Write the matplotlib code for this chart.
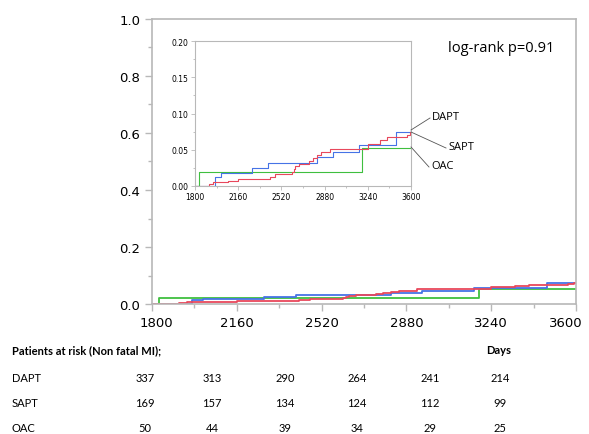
import matplotlib.pyplot as plt
import matplotlib.transforms as mtrans
import numpy as np

# step curves (days, cumulative incidence)
dapt_t = [1800, 1914, 1948, 2079, 2160, 2422, 2470, 2609, 2623, 2637, 2665, 2749, 2782, 2813, 2849, 2925, 3240, 3343, 3399, 3567, 3590, 3600]
dapt_y = [0.0, 0.003, 0.006, 0.007, 0.010, 0.013, 0.017, 0.020, 0.024, 0.027, 0.031, 0.034, 0.038, 0.043, 0.047, 0.051, 0.058, 0.063, 0.067, 0.071, 0.075, 0.075]
sapt_t = [1800, 1970, 2018, 2277, 2411, 2813, 2947, 3168, 3475, 3600]
sapt_y = [0.0, 0.013, 0.018, 0.025, 0.032, 0.040, 0.047, 0.056, 0.074, 0.074]
oac_t = [1800, 1831, 3190, 3600]
oac_y = [0.0, 0.020, 0.052, 0.052]

groups = ['DAPT', 'SAPT', 'OAC']
at_risk = {
    'DAPT': [337, 313, 290, 264, 241, 214],
    'SAPT': [169, 157, 134, 124, 112, 99],
    'OAC': [50, 44, 39, 34, 29, 25],
}
xticks = [1800, 2160, 2520, 2880, 3240, 3600]

red = '#e8485c'
blue = '#4673e6'
green = '#3fbf3f'
gray = '#b8b8b8'

fig = plt.figure(figsize=(5.89, 4.35), dpi=100)
W, H = 589, 435

def box(l, t, r, b):
    return [l / W, 1 - b / H, (r - l) / W, (b - t) / H]

ax = fig.add_axes(box(152, 20, 576, 305))
for t, y, c in [(oac_t, oac_y, green), (sapt_t, sapt_y, blue), (dapt_t, dapt_y, red)]:
    ax.step(t, y, where='post', color=c, lw=1.3)
ax.set_xlim(1800, 3600)
ax.set_ylim(0, 1.0)
ax.set_xticks(xticks)
ax.set_xticks(np.arange(1800, 3601, 180), minor=True)
ax.set_yticks(np.arange(0, 1.01, 0.2))
ax.set_yticks(np.arange(0.1, 1.0, 0.2), minor=True)
ax.yaxis.set_major_formatter(plt.FormatStrFormatter('%.1f'))
for s in ax.spines.values():
    s.set_color(gray)
    s.set_linewidth(1.2)
ax.tick_params(which='both', color=gray, labelsize=9.5, width=1, direction='out')
ax.tick_params(which='major', length=5)
ax.tick_params(which='minor', length=3)
# keep end labels inside the figure, like the original
labs = ax.get_xticklabels()
labs[0].set_transform(labs[0].get_transform() + mtrans.ScaledTranslation(4 / 100, 0, fig.dpi_scale_trans))
labs[-1].set_transform(labs[-1].get_transform() + mtrans.ScaledTranslation(-10 / 100, 0, fig.dpi_scale_trans))
ax.text(0.95, 0.9, 'log-rank p=0.91', transform=ax.transAxes, ha='right', va='center',
        fontsize=10.5, family='Open Sans')

ins = fig.add_axes(box(195, 42, 411, 187))
for t, y, c in [(oac_t, oac_y, green), (sapt_t, sapt_y, blue), (dapt_t, dapt_y, red)]:
    ins.step(t, y, where='post', color=c, lw=0.8)
ins.set_xlim(1800, 3600)
ins.set_ylim(0, 0.20)
ins.set_xticks(xticks)
ins.set_xticks(np.arange(1800, 3601, 180), minor=True)
ins.set_yticks([0, 0.05, 0.10, 0.15, 0.20])
ins.set_yticks([0.025, 0.075, 0.125, 0.175], minor=True)
ins.yaxis.set_major_formatter(plt.FormatStrFormatter('%.2f'))
for s in ins.spines.values():
    s.set_color(gray)
    s.set_linewidth(0.8)
ins.tick_params(which='both', color=gray, labelsize=5.5, width=0.6, pad=1.5)
ins.tick_params(which='major', length=3)
ins.tick_params(which='minor', length=1.5)

# labels with leader lines
for name, end, lab in [('DAPT', (411, 131), (432, 118)),
                       ('SAPT', (411, 133), (448, 148)),
                       ('OAC', (411, 148), (431, 167))]:
    ex, ey = end
    lx, ly = lab
    fig.add_artist(plt.Line2D([ex / W, (lx - 2) / W], [1 - ey / H, 1 - (ly + 1) / H],
                              color='#555555', lw=0.6))
    fig.text(lx / W, 1 - ly / H, name, ha='left', va='center', fontsize=8, family='Open Sans')

# risk table
cols = [145, 212, 285, 357, 430, 500]
fig.text(12 / W, 1 - 351 / H, 'Patients at risk (Non fatal MI);', ha='left', va='center',
         fontsize=8, weight='bold', family='Lato')
fig.text(511 / W, 1 - 351 / H, 'Days', ha='right', va='center', fontsize=8, weight='bold',
         family='Lato')
for g, yy in zip(groups, [379, 404, 429]):
    fig.text(12 / W, 1 - yy / H, g, ha='left', va='center', fontsize=8, family='Lato')
    for cx, v in zip(cols, at_risk[g]):
        fig.text(cx / W, 1 - yy / H, str(v), ha='center', va='center', fontsize=8,
                 family='Lato')

fig.savefig('out.png', dpi=100)
